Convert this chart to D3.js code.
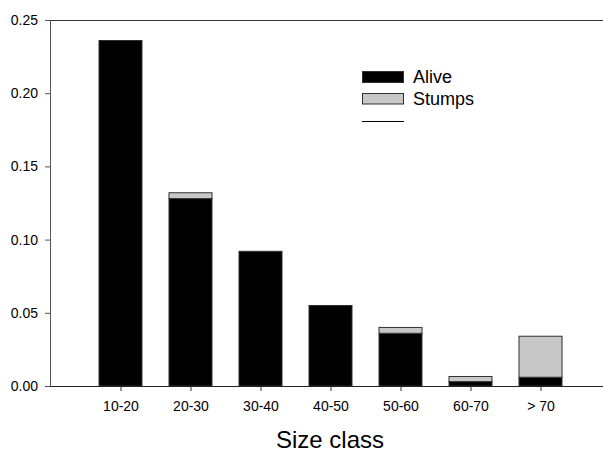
<!DOCTYPE html>
<html>
<head>
<meta charset="utf-8">
<script src="https://cdn.jsdelivr.net/npm/d3@7"></script>
<style>
  html, body { margin: 0; padding: 0; background: #fff; }
  svg { display: block; font-family: Arial, "Liberation Sans", sans-serif; }
</style>
</head>
<body>
<svg id="chart" width="603" height="454"></svg>
<script>
const categories = ["10-20", "20-30", "30-40", "40-50", "50-60", "60-70", "> 70"];
const alive = [0.236, 0.128, 0.092, 0.055, 0.036, 0.003, 0.006];
const stumps = [0.000, 0.004, 0.000, 0.000, 0.004, 0.0035, 0.028];
const yTicks = [0, 0.05, 0.10, 0.15, 0.20, 0.25];
const legendLabels = ["Alive", "Stumps", ""];

const svg = d3.select("#chart");
const mLeft = 50, mTop = 20, mBottom = 386, mRight = 610;

const x = d3.scalePoint().domain(categories).range([120.5, 540.5]);
const y = d3.scaleLinear().domain([0, 0.25]).range([mBottom, mTop]);
const barW = 43;

const data = categories.map((c, i) => ({ cat: c, alive: alive[i], stumps: stumps[i] }));
const stack = d3.stack().keys(["alive", "stumps"])(data);
const colors = { alive: "#000000", stumps: "#c8c8c8" };

// bars
stack.forEach(layer => {
  svg.append("g").selectAll("rect")
    .data(layer.filter(d => d[1] - d[0] > 0))
    .join("rect")
    .attr("x", d => x(d.data.cat) - barW / 2)
    .attr("width", barW)
    .attr("y", d => y(d[1]))
    .attr("height", d => y(d[0]) - y(d[1]))
    .attr("fill", colors[layer.key])
    .attr("stroke", "#303030")
    .attr("stroke-width", 1);
});

// frame line on top
svg.append("line").attr("x1", mLeft).attr("x2", mRight).attr("y1", mTop + 0.5).attr("y2", mTop + 0.5)
  .attr("stroke", "#333").attr("stroke-width", 1);

// y axis
const yAxis = d3.axisLeft(y).tickValues(yTicks).tickFormat(d3.format(".2f")).tickSize(5).tickPadding(7);
const gy = svg.append("g").attr("transform", `translate(${mLeft},0)`).call(yAxis);
gy.select(".domain").attr("stroke", "#555");
gy.selectAll(".tick line").attr("stroke", "#555");
gy.selectAll(".tick text").attr("font-size", 14).attr("fill", "#000")
  .attr("font-family", "Arial, 'Liberation Sans', sans-serif");

// x axis
const xAxis = d3.axisBottom(x).tickSize(5).tickPadding(10);
const gx = svg.append("g").attr("transform", `translate(0,${mBottom})`).call(xAxis);
gx.select(".domain").remove();
gx.selectAll(".tick line").attr("stroke", "#333");
gx.selectAll(".tick text").attr("font-size", 14).attr("fill", "#000")
  .attr("font-family", "Arial, 'Liberation Sans', sans-serif");
svg.append("line").attr("x1", mLeft).attr("x2", mRight).attr("y1", mBottom + 0.5).attr("y2", mBottom + 0.5)
  .attr("stroke", "#222").attr("stroke-width", 1);

// axis title
svg.append("text").attr("x", 330).attr("y", 448).attr("text-anchor", "middle")
  .attr("font-size", 24).attr("fill", "#000").text("Size class");

// legend
const lg = svg.append("g");
lg.append("rect").attr("x", 362.5).attr("y", 71.5).attr("width", 41).attr("height", 11)
  .attr("fill", colors.alive).attr("stroke", "#303030");
lg.append("rect").attr("x", 362.5).attr("y", 93.5).attr("width", 41).attr("height", 10.5)
  .attr("fill", colors.stumps).attr("stroke", "#303030");
lg.append("line").attr("x1", 362).attr("x2", 404).attr("y1", 121.5).attr("y2", 121.5)
  .attr("stroke", "#000").attr("stroke-width", 1);
legendLabels.forEach((t, i) => {
  lg.append("text").attr("x", 413).attr("y", 83 + i * 22).attr("font-size", 18)
    .attr("fill", "#000").text(t);
});
</script>
</body>
</html>
